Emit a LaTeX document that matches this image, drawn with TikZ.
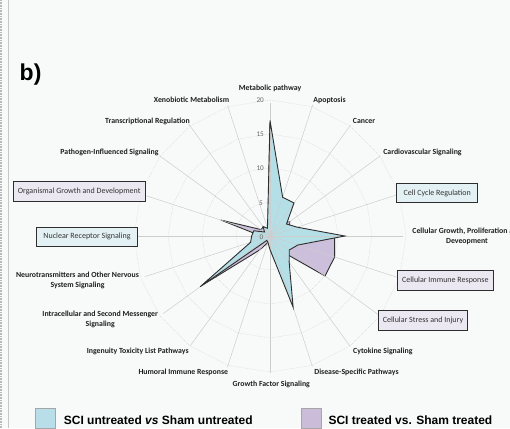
\documentclass[tikz,border=0pt]{standalone}
\usepackage{fontspec}
\setmainfont{Liberation Sans}
\newfontfamily\carlito{Carlito}
\usetikzlibrary{calc}
\definecolor{bg}{HTML}{F8F9F9}
\definecolor{serA}{HTML}{B5DFE7}
\definecolor{serB}{HTML}{CBBFDC}
\definecolor{boxA}{HTML}{E4F1F4}
\definecolor{boxB}{HTML}{EBE8F1}
\definecolor{legA}{HTML}{B8DEEA}
\definecolor{legB}{HTML}{CBBDD9}
\definecolor{edgecol}{HTML}{2E2E2E}
\definecolor{spokecol}{HTML}{CDCDCD}
\begin{document}
\begin{tikzpicture}[x=1pt,y=-1pt,
  axlab/.style={font=\carlito\bfseries\fontsize{7.8}{9.7}\selectfont, align=center, inner sep=0pt, text=black!88},
  bx/.style={draw=edgecol, line width=0.8pt, font=\carlito\fontsize{8}{9.5}\selectfont, inner sep=0pt, text=black!80},
  bxA/.style={bx, fill=boxA},
  bxB/.style={bx, fill=boxB},
  ticklab/.style={font=\carlito\fontsize{7.2}{8}\selectfont, text=black!60, inner sep=0pt, anchor=east},
  gridring/.style={draw=gray!30, line width=0.4pt, dash pattern=on 1pt off 1pt},
  spk/.style={draw=spokecol, line width=0.5pt},
  blueArea/.style={fill=serA},
  purpleArea/.style={fill=serB},
  seriesEdge/.style={draw=edgecol, line width=0.9pt},
  legsq/.style={draw=gray!70, line width=0.6pt, minimum width=20pt, minimum height=20pt, inner sep=0pt},
  legtxt/.style={anchor=base west, font=\bfseries\fontsize{12}{14}\selectfont, inner sep=0pt}
]
\useasboundingbox (0,0) rectangle (510,428);
\clip (0,0) rectangle (510,428);
\fill[bg] (0,0) rectangle (510,428);
\draw[gray!55, line width=1.6pt, dash pattern=on 0.8pt off 0.8pt] (1.2,0) -- (1.2,428);
\draw[gray!45, line width=0.8pt] (8,0) -- (8,428);

\coordinate (c) at (270,236);

% grid rings
\begin{scope}[shift={(270,236)}]
\foreach \r in {34,68,102,136}{
  \draw[gridring] (-90:\r) \foreach \k in {1,...,19}{ -- ({18*\k-90}:\r) } -- cycle;
}
% purple series (SCI treated vs Sham treated)
\path[purpleArea] (-90:16.5*6.8)
  \foreach \k/\v in {1/2,2/2,3/3.6,4/3,5/9.5,6/10,7/10,8/2.7,9/10.5,10/1,11/1,12/2.5,13/12.3,14/2.5,15/1.3,16/7.6,17/1.6,18/1.7,19/1}{ -- ({18*\k-90}:\v*6.8) } -- cycle;
\draw[seriesEdge] (-90:16.5*6.8)
  \foreach \k/\v in {1/2,2/2,3/3.6,4/3,5/9.5,6/10,7/10,8/2.7,9/10.5,10/1,11/1,12/2.5,13/12.3,14/2.5,15/1.3,16/7.6,17/1.6,18/1.7,19/1}{ -- ({18*\k-90}:\v*6.8) } -- cycle;
% blue series (SCI untreated vs Sham untreated)
\path[blueArea] (-90:17*6.8)
  \foreach \k/\v in {1/6,2/6,3/3,4/4.2,5/11,6/4.3,7/3.5,8/4.8,9/11,10/2,11/1,12/0.8,13/12.7,14/3,15/2.7,16/2.5,17/1,18/1.7,19/1.2}{ -- ({18*\k-90}:\v*6.8) } -- cycle;
\end{scope}

% spokes
\foreach \k/\l in {0/133,1/138,2/137,3/136,4/140,5/133,6/140,7/140,8/136.6,9/137,10/137,11/138,12/135.6,13/132,14/131.5,15/140,16/140,17/136.6,18/139,19/137}{
  \coordinate (e\k) at ($(c)+({18*\k-90}:\l)$);
  \draw[spk] (c) -- (e\k);
}

\begin{scope}[shift={(270,236)}]
\draw[seriesEdge] (-90:17*6.8)
  \foreach \k/\v in {1/6,2/6,3/3,4/4.2,5/11,6/4.3,7/3.5,8/4.8,9/11,10/2,11/1,12/0.8,13/12.7,14/3,15/2.7,16/2.5,17/1,18/1.7,19/1.2}{ -- ({18*\k-90}:\v*6.8) } -- cycle;
\end{scope}

% scale labels
\node[ticklab] (t20) at (264,100) {20};
\node[ticklab] (t15) at (264,134) {15};
\node[ticklab] (t10) at (264,168.5) {10};
\node[ticklab] (t5) at (263,203) {5};
\node[ticklab] (t0) at (263.5,237) {0};

% axis labels
\node[axlab] (l0) at (270,88.5) {Metabolic pathway};
\node[axlab] (l1) at (329.5,100) {Apoptosis};
\node[axlab] (l2) at (364,121) {Cancer};
\node[axlab] (l3) at (422.5,152.7) {Cardiovascular Signaling};
\node[bxA, minimum width=81pt, minimum height=19.4pt] (l4) at (437.2,193) {Cell Cycle Regulation};
\node[axlab] (l5) at (467,236.2) {Cellular Growth, Proliferation and\\Deveopment};
\node[bxB, minimum width=96pt, minimum height=19.3pt] (l6) at (445.3,280.3) {Cellular Immune Response};
\node[bxB, minimum width=89.4pt, minimum height=19.3pt] (l7) at (423,320.3) {Cellular Stress and Injury};
\node[axlab] (l8) at (382.8,351) {Cytokine Signaling};
\node[axlab] (l9) at (356.5,372.3) {Disease-Specific Pathways};
\node[axlab] (l10) at (271.3,384.7) {Growth Factor Signaling};
\node[axlab] (l11) at (183.3,372) {Humoral Immune Response};
\node[axlab] (l12) at (137.7,351) {Ingenuity Toxicity List Pathways};
\node[axlab] (l13) at (100.2,319.5) {Intracellular and Second Messenger\\Signaling};
\node[axlab] (l14) at (77.5,280.7) {Neurotransmitters and Other Nervous\\System Signaling};
\node[bxA, minimum width=100.6pt, minimum height=18.7pt] (l15) at (87,236.7) {Nuclear Receptor Signaling};
\node[bxB, minimum width=131.7pt, minimum height=20pt] (l16) at (79.2,191.7) {Organismal Growth and Development};
\node[axlab] (l17) at (109.5,152.7) {Pathogen-Influenced Signaling};
\node[axlab] (l18) at (147.5,121) {Transcriptional Regulation};
\node[axlab] (l19) at (191.5,100) {Xenobiotic Metabolism};

% panel letter
\node[anchor=base west, font=\bfseries\fontsize{23}{26}\selectfont, inner sep=0pt] (panel) at (19.5,80) {b)};

% legend
\node[legsq, fill=legA] (sqA) at (45,418.5) {};
\node[legtxt] (txA) at (63.7,424) {SCI untreated \textit{vs} Sham untreated};
\node[legsq, fill=legB] (sqB) at (311,418.7) {};
\node[legtxt] (txB) at (328.3,424) {SCI treated vs. Sham treated};
\end{tikzpicture}
\end{document}
